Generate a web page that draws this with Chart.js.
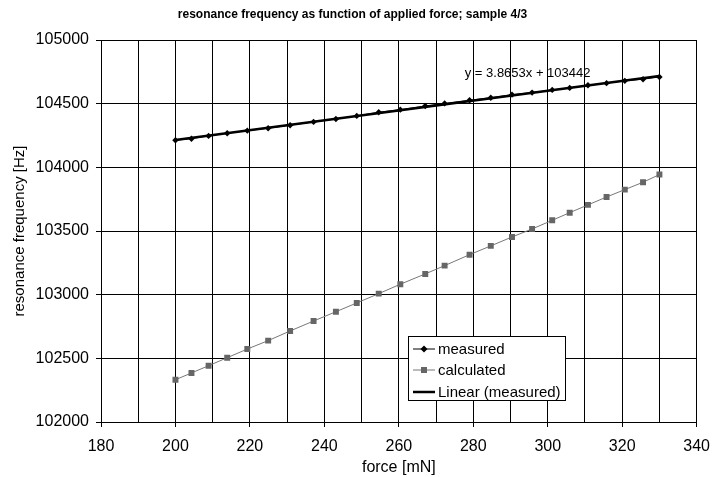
<!DOCTYPE html>
<html>
<head>
<meta charset="utf-8">
<script src="https://cdn.jsdelivr.net/npm/chart.js@4/dist/chart.umd.min.js"></script>
<style>
  body { margin: 0; background: #fff; }
  #wrap { width: 720px; height: 477px; }
</style>
</head>
<body>
<div id="wrap"><canvas id="chart" width="720" height="477"></canvas></div>
<script>
// values
let force = [200, 204.3, 208.9, 213.9, 219.3, 224.9, 230.8, 237.1, 243.1, 248.7, 254.6, 260.4, 267.1,
  272.3, 279.0, 284.7, 290.4, 295.8, 301.2, 305.9, 310.8, 315.8, 320.7, 325.6, 330];
let measured = [104213, 104225, 104247, 104268, 104288, 104307, 104331, 104357, 104380, 104404, 104433, 104453, 104482,
  104502, 104527, 104547, 104571, 104587, 104608, 104624, 104645, 104661, 104679, 104692, 104710];
let calculated = [102332, 102385, 102442, 102505, 102573, 102639, 102715, 102793, 102866, 102935, 103008, 103082, 103163,
  103228, 103314, 103383, 103453, 103516, 103584, 103644, 103705, 103767, 103825, 103883, 103943];
let trendForce = [200, 330];
let trendFreq = [104215, 104718];
let trendText = 'y = 3.8653x + 103442';
let seriesNames = ['measured', 'calculated', 'Linear (measured)'];

const FONT = "'Liberation Sans', Arial, sans-serif";

function pts(xs, ys) {
  return xs.map((x, i) => ({ x: x, y: ys[i] }));
}

// legend box inside the plot + trendline equation
let extras = {
  id: 'extras',
  afterDraw(chart) {
    let ctx = chart.ctx;
    let xs = chart.scales.x, ys = chart.scales.y;
    ctx.save();
    ctx.font = '13px ' + FONT;
    ctx.fillStyle = '#000';
    ctx.textAlign = 'left';
    ctx.textBaseline = 'middle';
    ctx.fillText(trendText, xs.getPixelForValue(277.7), ys.getPixelForValue(104740));

    let bx = 408.5, by = 336.5, bw = 157, bh = 64;
    ctx.fillStyle = '#fff';
    ctx.fillRect(bx, by, bw, bh);
    ctx.strokeStyle = '#000';
    ctx.lineWidth = 1;
    ctx.strokeRect(bx, by, bw, bh);

    let rows = [349, 370, 392];
    // measured
    ctx.beginPath(); ctx.moveTo(413, rows[0]); ctx.lineTo(435, rows[0]); ctx.stroke();
    ctx.fillStyle = '#000';
    ctx.beginPath(); ctx.moveTo(424, rows[0] - 3.5); ctx.lineTo(427.5, rows[0]); ctx.lineTo(424, rows[0] + 3.5); ctx.lineTo(420.5, rows[0]); ctx.closePath(); ctx.fill();
    // calculated
    ctx.strokeStyle = '#777';
    ctx.beginPath(); ctx.moveTo(413, rows[1]); ctx.lineTo(435, rows[1]); ctx.stroke();
    ctx.fillStyle = '#666';
    ctx.fillRect(421, rows[1] - 3, 6, 6);
    // linear
    ctx.strokeStyle = '#000';
    ctx.lineWidth = 2.5;
    ctx.beginPath(); ctx.moveTo(413, rows[2]); ctx.lineTo(435, rows[2]); ctx.stroke();

    ctx.font = '15px ' + FONT;
    ctx.fillStyle = '#000';
    seriesNames.forEach((n, i) => ctx.fillText(n, 438, rows[i] + 1));
    ctx.restore();
  }
};

let chartEl = document.getElementById('chart');
let config = {
  type: 'line',
  data: {
    datasets: [
      {
        label: seriesNames[0],
        data: pts(force, measured),
        borderColor: '#000',
        backgroundColor: '#000',
        borderWidth: 1,
        pointStyle: 'rectRot',
        pointRadius: 3.2,
        pointBorderWidth: 0,
        order: 0
      },
      {
        label: seriesNames[2],
        data: pts(trendForce, trendFreq),
        borderColor: '#000',
        borderWidth: 2.5,
        pointRadius: 0,
        order: 1
      },
      {
        label: seriesNames[1],
        data: pts(force, calculated),
        borderColor: '#777',
        backgroundColor: '#666',
        borderWidth: 1,
        pointStyle: 'rect',
        pointRadius: 4.2,
        pointBorderWidth: 0,
        order: 2
      }
    ]
  },
  options: {
    responsive: false,
    animation: false,
    devicePixelRatio: 1,
    layout: { padding: { top: 0, right: 15, bottom: 0, left: 0 } },
    plugins: {
      legend: { display: false },
      tooltip: { enabled: false },
      title: {
        display: true,
        text: 'resonance frequency as function of applied force; sample 4/3',
        color: '#000',
        font: { family: FONT, size: 12, weight: 'bold' },
        padding: { top: 7, bottom: 18.6 }
      }
    },
    scales: {
      x: {
        type: 'linear',
        min: 180,
        max: 340,
        afterFit: s => { s.height = 55; },
        ticks: {
          stepSize: 10,
          autoSkip: false,
          maxRotation: 0,
          padding: 10,
          color: '#000',
          font: { family: FONT, size: 16 },
          callback: v => (v % 20 === 0 ? String(v) : '')
        },
        grid: {
          color: '#000',
          tickLength: 5,
          tickColor: c => (c.tick && c.tick.value % 20 === 0 ? '#000' : 'rgba(0,0,0,0)')
        },
        border: { color: '#000' },
        title: {
          display: true,
          text: 'force [mN]',
          color: '#000',
          font: { family: FONT, size: 16 },
          padding: 0
        }
      },
      y: {
        min: 102000,
        max: 105000,
        afterFit: s => { s.width = 101; },
        ticks: {
          stepSize: 500,
          padding: 7,
          color: '#000',
          font: { family: FONT, size: 16 },
          callback: v => String(v)
        },
        grid: { color: '#000', tickLength: 5, tickColor: '#000' },
        border: { color: '#000' },
        title: {
          display: true,
          text: 'resonance frequency [Hz]',
          color: '#000',
          font: { family: FONT, size: 15 },
          padding: { top: 11, bottom: 0 }
        }
      }
    }
  },
  plugins: [extras]
};
let chart = new Chart(chartEl, config);
</script>
</body>
</html>
